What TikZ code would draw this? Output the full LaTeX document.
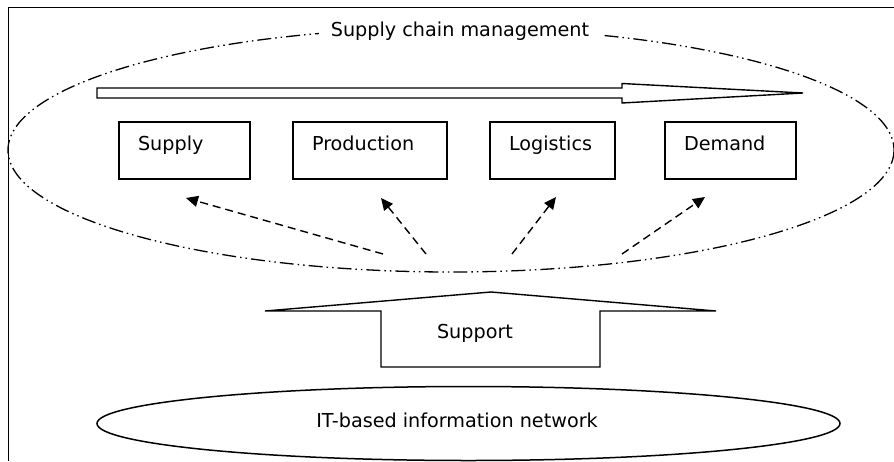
\documentclass[tikz,border=0pt]{standalone}
\usepackage{fontspec}
\setmainfont{DejaVu Sans}
\usetikzlibrary{arrows.meta}

\begin{document}
\begin{tikzpicture}[x=1pt, y=-1pt,
	every node/.style={font=\fontsize{19.2}{22}\selectfont},
	box/.style={draw, line width=1.3pt, text width=#1, align=left, inner xsep=19pt,
		inner ysep=8.5pt, text height=20pt, text depth=20pt},
	dashdotdot/.style={line width=1.3pt, dash pattern=on 14pt off 4pt on 1.5pt off 4pt on 1.5pt off 4pt},
	link/.style={line width=1.4pt, dash pattern=on 8pt off 5pt, -{Triangle[length=12pt, width=11pt]}},
	hollow/.style={line width=1.4pt, fill=white, line join=miter}]
	\useasboundingbox (0,0) rectangle (894,461);
	\fill[white] (0,0) rectangle (894,461);
	\draw[line width=1.5pt] (894,7.5) -- (8.5,7.5) -- (8.5,461);
	
	% supply chain management
	\draw[dashdotdot] (451,150) ellipse [x radius=443, y radius=122];
	\node[fill=white, inner xsep=12pt] (scm) at (460,31) {Supply chain management};
	
	% flow arrow
	\draw[hollow] (97,88) -- (622,88) -- (622,83.5) -- (803,93) -- (622,103) -- (622,98) -- (97,98) -- cycle;
	
	% chain stages
	\node[box=93pt] (supply) at (184.5,150.5) {Supply};
	\node[box=116pt] (production) at (370,150.5) {Production};
	\node[box=87pt] (logistics) at (552.5,150.5) {Logistics};
	\node[box=93pt] (demand) at (730.5,150.5) {Demand};
	
	\coordinate (f1) at (383,254);
	\coordinate (f2) at (426,254);
	\coordinate (f3) at (512,254);
	\coordinate (f4) at (622,254);
	\coordinate (t1) at (186,198);
	\coordinate (t2) at (381,198);
	\coordinate (t3) at (556,197);
	\coordinate (t4) at (705,197);
	\draw[link] (f1) -- (t1);
	\draw[link] (f2) -- (t2);
	\draw[link] (f3) -- (t3);
	\draw[link] (f4) -- (t4);
	
	% support
	\draw[hollow] (265,311) -- (491,292) -- (716,311) -- (600,311) -- (600,367) -- (381,367) -- (381,311) -- cycle;
	\node (support) at (475,333) {Support};
	
	% network
	\draw[line width=1.5pt] (468.5,423.5) ellipse [x radius=371.5, y radius=37];
	\node (net) at (457,420) {IT-based information network};
\end{tikzpicture}
\end{document}
